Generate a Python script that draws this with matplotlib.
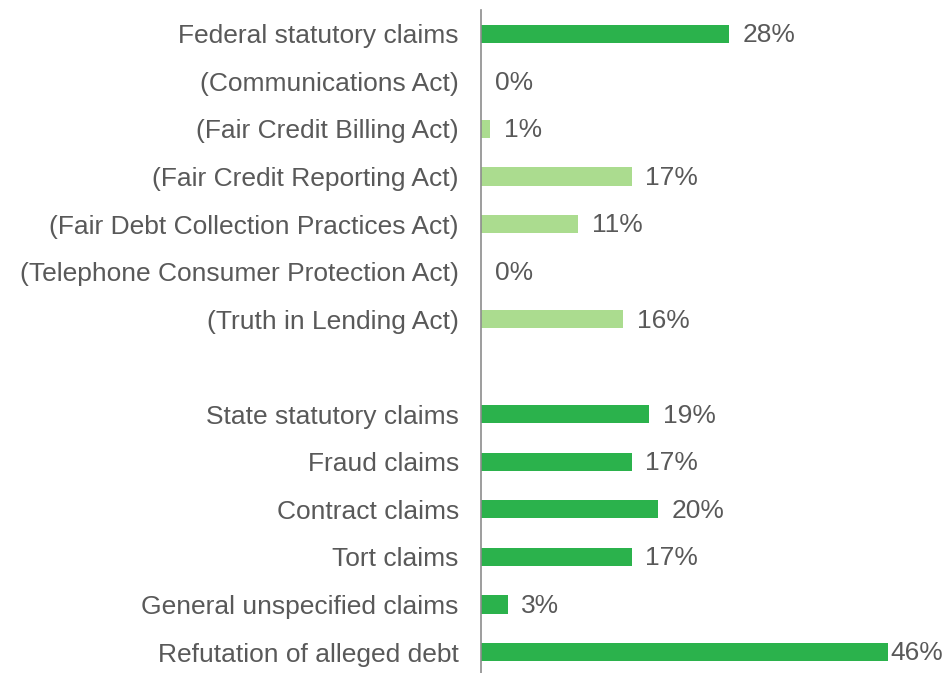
import matplotlib.pyplot as plt

categories = ['Federal statutory claims', '(Communications Act)', '(Fair Credit Billing Act)',
              '(Fair Credit Reporting Act)', '(Fair Debt Collection Practices Act)',
              '(Telephone Consumer Protection Act)', '(Truth in Lending Act)', '',
              'State statutory claims', 'Fraud claims', 'Contract claims', 'Tort claims',
              'General unspecified claims', 'Refutation of alleged debt']
values = [28, 0, 1, 17, 11, 0, 16, None, 19, 17, 20, 17, 3, 46]
is_sub = [False, True, True, True, True, True, True, False,
          False, False, False, False, False, False]

dark = '#2bb24c'
light = '#abdc8f'
grey = '#595959'

plt.rcParams['font.family'] = ['Liberation Sans', 'DejaVu Sans']

fig = plt.figure(figsize=(9.45, 6.73), dpi=100)
ax = fig.add_axes([481 / 945, 0, 1 - 481 / 945, 1 - 10 / 673])

ys = list(range(len(categories)))
for y, v, s in zip(ys, values, is_sub):
    if v is None:
        continue
    ax.barh(y, v, height=0.38, color=light if s else dark)
    off = 1.5 if v == max(x for x in values if x is not None) else 10
    ax.annotate(f'{v}%', (v, y), xytext=(off, -1), textcoords='offset points',
                va='center', ha='left', fontsize=19, color=grey)

ax.set_xlim(0, 52.4)
ax.set_ylim(13.44, -0.5)
ax.set_yticks(ys)
ax.set_yticklabels(categories, fontsize=19, color=grey)
ax.tick_params(axis='y', length=0, pad=16)
ax.set_xticks([])
for side in ['top', 'right', 'bottom']:
    ax.spines[side].set_visible(False)
ax.spines['left'].set_color('#8c8c8c')
ax.spines['left'].set_linewidth(1.2)

fig.savefig('out.png', dpi=100)
